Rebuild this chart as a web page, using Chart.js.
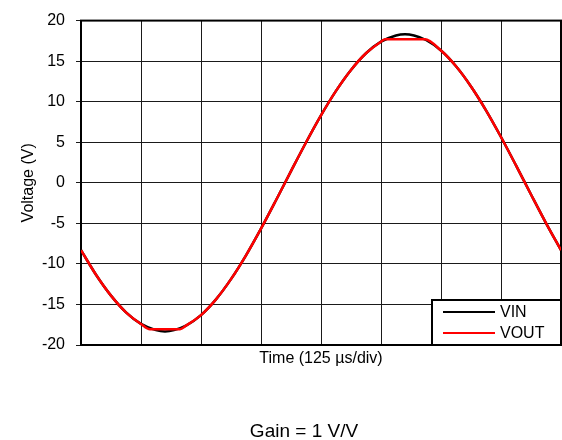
<!DOCTYPE html>
<html>
<head>
<meta charset="utf-8">
<script src="https://cdn.jsdelivr.net/npm/chart.js@4/dist/chart.umd.min.js"></script>
<style>
  body { margin: 0; background: #fff; }
</style>
</head>
<body>
<canvas id="myChart" width="562" height="440"></canvas>
<script>
// time in divisions (125 us/div), voltages
const vinTime = [0, 0.25, 0.5, 0.75, 1, 1.25, 1.4, 1.55, 1.75, 2, 2.25, 2.5, 2.75, 3, 3.25, 3.5, 3.75,
                 4, 4.25, 4.5, 4.75, 5, 5.25, 5.4, 5.55, 5.75, 6, 6.25, 6.5, 6.75, 7, 7.25, 7.5, 7.75, 8];
const vinVolts = [-8.31, -11.33, -13.91, -15.97, -17.40, -18.17, -18.32, -18.17, -17.61, -16.31, -14.37, -11.88, -8.94,
                  -5.65, -2.15, 1.44, 4.97, 8.31, 11.33, 13.91, 15.97, 17.40, 18.17, 18.32, 18.17, 17.61,
                  16.31, 14.37, 11.88, 8.94, 5.65, 2.15, -1.44, -4.97, -8.31];

const voutTime = [0, 0.25, 0.5, 0.75, 1, 1.15, 1.25, 1.5, 1.65, 1.75, 2, 2.25, 2.5, 2.75, 3, 3.25, 3.5, 3.75,
                  4, 4.25, 4.5, 4.75, 5, 5.07, 5.25, 5.5, 5.73, 6, 6.25, 6.5, 6.75, 7, 7.25, 7.5, 7.75, 8];
const voutVolts = [-8.31, -11.33, -13.91, -15.97, -17.40, -18.05, -18.05, -18.05, -18.05, -17.61, -16.31, -14.37, -11.88, -8.94,
                   -5.65, -2.15, 1.44, 4.97, 8.31, 11.33, 13.91, 15.97, 17.40, 17.7, 17.7, 17.7, 17.7,
                   16.31, 14.37, 11.88, 8.94, 5.65, 2.15, -1.44, -4.97, -8.31];

const seriesNames = ['VIN', 'VOUT'];
const seriesColors = ['#000000', '#ff0000'];
const yTicks = [-20, -15, -10, -5, 0, 5, 10, 15, 20];
const xTitle = 'Time (125 µs/div)';
const yTitle = 'Voltage (V)';
const footNote = 'Gain = 1 V/V';

const FONT = "'Liberation Sans', Arial, Helvetica, sans-serif";
Chart.defaults.font.family = FONT;
Chart.defaults.color = '#000';

const toPoints = (xs, ys) => xs.map((x, i) => ({x: x, y: ys[i]}));

// plot frame + boxed legend + footnote
const decorations = {
    id: 'decorations',
    beforeDatasetsDraw(chart) {
        const {ctx, chartArea: a} = chart;
        ctx.save();
        ctx.strokeStyle = '#000';
        ctx.lineWidth = 2;
        ctx.strokeRect(a.left, a.top, a.right - a.left, a.bottom - a.top);
        ctx.restore();
    },
    afterDatasetsDraw(chart) {
        const {ctx, chartArea: a} = chart;
        ctx.save();
        // legend box in the bottom right corner
        const bx = a.right - 129, by = a.bottom - 45;
        ctx.fillStyle = '#fff';
        ctx.fillRect(bx, by, 129, 45);
        ctx.strokeStyle = '#000';
        ctx.lineWidth = 2;
        ctx.strokeRect(bx, by, 129, 45);
        ctx.font = '16px ' + FONT;
        ctx.textBaseline = 'middle';
        seriesNames.forEach((name, i) => {
            const ly = by + 12 + i * 21;
            ctx.strokeStyle = seriesColors[i];
            ctx.beginPath();
            ctx.moveTo(bx + 11, ly);
            ctx.lineTo(bx + 63, ly);
            ctx.stroke();
            ctx.fillStyle = '#000';
            ctx.fillText(name, bx + 68, ly + 1);
        });
        // gain note under the plot
        ctx.font = '19px ' + FONT;
        ctx.textAlign = 'center';
        ctx.textBaseline = 'alphabetic';
        ctx.fillText(footNote, 304, 437);
        ctx.restore();
    }
};

const chartContext = document.getElementById('myChart').getContext('2d');
const myChart = new Chart(chartContext, {
    type: 'line',
    data: {
        datasets: [{
            label: seriesNames[0],
            data: toPoints(vinTime, vinVolts),
            borderColor: seriesColors[0],
            borderWidth: 2.5,
            pointRadius: 0,
            cubicInterpolationMode: 'monotone',
            order: 1
        }, {
            label: seriesNames[1],
            data: toPoints(voutTime, voutVolts),
            borderColor: seriesColors[1],
            borderWidth: 2.5,
            pointRadius: 0,
            cubicInterpolationMode: 'monotone',
            order: 0
        }]
    },
    options: {
        responsive: false,
        animation: false,
        devicePixelRatio: 1,
        layout: {
            padding: {top: 18, right: 1, bottom: 72, left: 0}
        },
        plugins: {
            legend: {display: false},
            tooltip: {enabled: false}
        },
        scales: {
            x: {
                type: 'linear',
                min: 0,
                max: 8,
                ticks: {display: false, stepSize: 1},
                grid: {color: '#1a1a1a', lineWidth: 1, drawTicks: false},
                border: {display: false},
                title: {
                    display: true,
                    text: xTitle,
                    font: {size: 16},
                    padding: {top: 0, bottom: 0}
                },
                afterFit(scale) { scale.height = 23; }
            },
            y: {
                type: 'linear',
                min: yTicks[0],
                max: yTicks[yTicks.length - 1],
                afterBuildTicks(scale) { scale.ticks = yTicks.map(v => ({value: v})); },
                ticks: {font: {size: 16}, padding: 11},
                grid: {color: '#1a1a1a', lineWidth: 1, tickLength: 5},
                border: {display: false},
                title: {
                    display: true,
                    text: yTitle,
                    font: {size: 16},
                    padding: {top: 19, bottom: 0}
                },
                afterFit(scale) { scale.width = 81; }
            }
        }
    },
    plugins: [decorations]
});
</script>
</body>
</html>
